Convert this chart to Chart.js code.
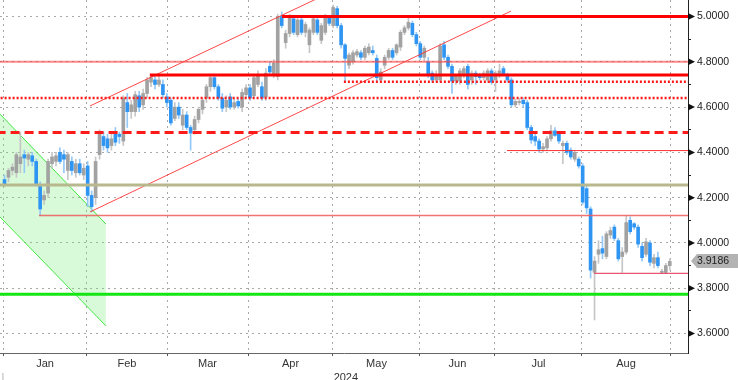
<!DOCTYPE html>
<html><head><meta charset="utf-8">
<script src="https://cdn.jsdelivr.net/npm/chart.js@4"></script>
<style>html,body{margin:0;padding:0;background:#fff;}#wrap{width:738px;height:380px;position:relative;}</style>
</head><body><div id="wrap"><canvas id="c" width="738" height="380"></canvas></div>
<script>
// ---------- data ----------
const opens = [4.28,4.29,4.32,4.31,4.35,4.39,4.37,4.385,4.36,4.25,
4.19,4.22,4.35,4.36,4.40,4.39,4.32,4.36,4.31,4.35,
4.30,4.34,4.21,4.20,4.39,4.47,4.46,4.43,4.49,4.48,
4.45,4.62,4.58,4.58,4.65,4.61,4.66,4.71,4.72,4.70,
4.70,4.645,4.63,4.55,4.60,4.52,4.565,4.51,4.50,4.545,
4.59,4.64,4.69,4.73,4.69,4.64,4.60,4.645,4.60,4.625,
4.60,4.655,4.685,4.65,4.70,4.69,4.645,4.78,4.74,4.735,
5.00,4.885,4.925,4.99,4.92,4.985,4.93,4.875,4.93,4.985,
4.895,4.93,4.995,4.96,5.035,4.96,4.875,4.785,4.80,4.83,
4.84,4.82,4.84,4.85,4.815,4.72,4.785,4.82,4.85,4.84,
4.865,4.93,4.95,4.97,4.92,4.88,4.82,4.80,4.75,4.72,
4.72,4.875,4.82,4.78,4.715,4.715,4.745,4.78,4.72,4.75,
4.74,4.73,4.72,4.76,4.72,4.74,4.77,4.745,4.72,4.61,
4.62,4.63,4.62,4.51,4.47,4.45,4.415,4.42,4.46,4.495,
4.48,4.43,4.44,4.41,4.37,4.37,4.34,4.24,4.15,3.87,
3.95,3.975,3.94,4.035,4.07,4.01,3.94,3.96,4.10,4.085,
4.07,3.985,3.95,4.00,3.91,3.935,3.87,3.87,3.90];
const highs = [4.30,4.33,4.35,4.40,4.49,4.41,4.40,4.40,4.37,4.27,
4.23,4.37,4.40,4.40,4.42,4.41,4.40,4.38,4.37,4.37,
4.35,4.36,4.23,4.38,4.50,4.49,4.48,4.48,4.51,4.49,
4.65,4.66,4.63,4.67,4.67,4.68,4.73,4.742,4.74,4.74,
4.72,4.66,4.64,4.62,4.62,4.59,4.58,4.52,4.56,4.60,
4.64,4.70,4.745,4.74,4.70,4.66,4.65,4.66,4.64,4.635,
4.68,4.70,4.70,4.74,4.76,4.71,4.77,4.80,4.81,5.01,
5.02,4.94,5.01,5.00,5.00,4.995,4.975,4.95,5.00,4.995,
4.97,5.01,5.005,5.05,5.045,4.97,4.88,4.84,4.85,4.855,
4.85,4.87,4.88,4.87,4.83,4.77,4.83,4.86,4.86,4.88,
4.94,4.96,5.00,4.98,4.93,4.89,4.87,4.82,4.76,4.76,
4.88,4.89,4.83,4.79,4.745,4.77,4.78,4.79,4.76,4.76,
4.75,4.76,4.77,4.77,4.76,4.79,4.78,4.75,4.73,4.635,
4.64,4.64,4.63,4.52,4.48,4.46,4.44,4.47,4.52,4.51,
4.49,4.45,4.45,4.42,4.41,4.38,4.35,4.25,4.16,3.94,
4.01,4.03,4.05,4.07,4.08,4.02,3.98,4.12,4.115,4.09,
4.08,4.00,4.02,4.01,3.95,3.96,3.885,3.91,3.93];
const lows = [4.25,4.27,4.30,4.29,4.31,4.31,4.34,4.34,4.25,4.12,
4.17,4.20,4.33,4.34,4.35,4.31,4.28,4.30,4.29,4.30,
4.28,4.16,4.137,4.17,4.37,4.41,4.40,4.41,4.43,4.44,
4.43,4.51,4.55,4.56,4.58,4.59,4.64,4.69,4.68,4.69,
4.64,4.60,4.52,4.54,4.55,4.50,4.50,4.41,4.48,4.53,
4.57,4.62,4.67,4.68,4.63,4.58,4.58,4.59,4.59,4.595,
4.58,4.64,4.63,4.64,4.69,4.63,4.63,4.74,4.73,4.72,
4.95,4.86,4.91,4.92,4.91,4.92,4.91,4.84,4.92,4.92,
4.88,4.92,4.96,4.95,4.95,4.86,4.71,4.77,4.79,4.82,
4.81,4.81,4.83,4.83,4.71,4.71,4.77,4.81,4.81,4.83,
4.85,4.92,4.94,4.91,4.87,4.81,4.80,4.73,4.71,4.71,
4.71,4.81,4.77,4.66,4.70,4.70,4.73,4.68,4.70,4.70,
4.72,4.72,4.71,4.70,4.67,4.73,4.74,4.71,4.60,4.60,
4.61,4.60,4.50,4.44,4.43,4.40,4.40,4.41,4.45,4.47,
4.44,4.35,4.39,4.37,4.36,4.33,4.17,4.13,3.845,3.66,
3.91,3.93,3.93,4.02,4.01,3.92,3.87,3.95,4.04,4.06,
3.98,3.92,3.94,3.90,3.89,3.89,3.865,3.865,3.88];
const closes = [4.255,4.32,4.335,4.39,4.38,4.375,4.39,4.36,4.26,4.15,
4.21,4.36,4.38,4.385,4.36,4.37,4.39,4.32,4.35,4.31,
4.33,4.21,4.16,4.36,4.48,4.43,4.42,4.46,4.445,4.47,
4.64,4.58,4.61,4.655,4.60,4.66,4.72,4.73,4.70,4.72,
4.655,4.62,4.53,4.60,4.565,4.565,4.51,4.485,4.545,4.59,
4.63,4.69,4.73,4.69,4.64,4.595,4.63,4.60,4.62,4.605,
4.665,4.685,4.64,4.73,4.74,4.64,4.75,4.755,4.795,5.00,
4.96,4.925,4.995,4.93,4.985,4.93,4.965,4.94,4.99,4.93,
4.96,5.00,4.97,5.04,4.96,4.875,4.815,4.83,4.84,4.845,
4.82,4.86,4.865,4.84,4.73,4.755,4.82,4.85,4.82,4.875,
4.93,4.95,4.975,4.92,4.88,4.82,4.86,4.74,4.72,4.74,
4.87,4.82,4.78,4.715,4.74,4.76,4.77,4.70,4.75,4.735,
4.73,4.75,4.76,4.71,4.75,4.76,4.745,4.72,4.61,4.625,
4.625,4.615,4.51,4.455,4.45,4.415,4.425,4.46,4.495,4.475,
4.45,4.44,4.40,4.38,4.40,4.34,4.18,4.155,3.88,3.92,
3.97,3.955,4.04,4.055,4.02,3.93,3.96,4.09,4.05,4.07,
3.995,3.935,4.005,3.915,3.935,3.90,3.875,3.90,3.9186];

// x tick labels: months, with the index (in trading-day units) where each month starts
const monthLabels = ['Jan','Feb','Mar','Apr','May','Jun','Jul','Aug'];
const monthStarts = [-0.38, 20.83, 41.04, 61.49, 82.95, 104.92, 123.86, 145.83, 168.06];
const yearLabel = '2024';
const yearLabelAt = 86.2;
const yearSeparator = '|';
// y tick values
const yTickValues = [3.6,3.7,3.8,3.9,4.0,4.1,4.2,4.3,4.4,4.5,4.6,4.7,4.8,4.9,5.0];

// horizontal levels (value, start index)
const levelValues = [5.0, 4.8, 4.742, 4.712, 4.64, 4.488, 4.408, 4.256, 4.121, 3.866, 3.774];
const levelStarts = [70.1, -2, 36.7, 85.7, -2, -2, 126.9, -2, 8.7, 148.9, -2];
// rising channel
const chanUpperX = [21.6, 80.0];   const chanUpperY = [4.605, 5.088];
const chanLowerX = [21.6, 127.9];  const chanLowerY = [4.137, 5.024];
// falling (green) channel
const greenX = [-1.14, 25.6];
const greenUpperY = [4.569, 4.084];
const greenLowerY = [4.115, 3.634];

// ---------- styles ----------
const levelStyles = [
  {c:'#ff0000', w:3, d:[]},
  {c:'rgba(255,60,60,0.6)', w:2, d:[]},
  {c:'#ff0000', w:3, d:[]},
  {c:'#ff1a1a', w:2.5, d:[2,2]},
  {c:'#ff1a1a', w:2.5, d:[2,2]},
  {c:'#ff1a1a', w:3, d:[9,5]},
  {c:'#ff3030', w:1, d:[]},
  {c:'#b8b88e', w:3, d:[]},
  {c:'rgba(240,90,90,0.85)', w:1.5, d:[]},
  {c:'#e0304a', w:1, d:[]},
  {c:'#14e614', w:3, d:[]}
];
const BLUE='#2f95f2', BLUE_W='#94c8f6', GRAY='#a2a2a2', GRAY_W='#c6c6c6';
const FONT = 'Liberation Sans, Arial, sans-serif';

const xTicks = [];
monthStarts.forEach((v,i) => xTicks.push({value:v, label: i===0 ? ['', yearSeparator] : '', grid:true, sep:i===0}));
monthLabels.forEach((m,i) => xTicks.push({value:(monthStarts[i]+monthStarts[i+1])/2, label:m, grid:false}));
xTicks.push({value:yearLabelAt, label:['', yearLabel], grid:false});
xTicks.sort((a,b)=>a.value-b.value);
const isMajor = v => Math.round(v*10) % 2 === 0;

const isUp = i => closes[i] >= opens[i];
const datasets = [];
levelValues.forEach((v,k) => {
  datasets.push({type:'line', data:[{x:levelStarts[k], y:v},{x:180, y:v}],
    borderColor:levelStyles[k].c, borderWidth:levelStyles[k].w, borderDash:levelStyles[k].d,
    pointRadius:0, fill:false, order:1});
});
datasets.push({type:'line', data:chanUpperX.map((x,i)=>({x, y:chanUpperY[i]})), borderColor:'rgba(255,40,40,0.85)', borderWidth:1, pointRadius:0, fill:false, order:1});
datasets.push({type:'line', data:chanLowerX.map((x,i)=>({x, y:chanLowerY[i]})), borderColor:'rgba(255,40,40,0.85)', borderWidth:1, pointRadius:0, fill:false, order:1});
datasets.push({type:'bar', data:lows.map((l,i)=>({x:i, y:[l, highs[i]]})),
  backgroundColor:lows.map((_,i)=>isUp(i)?GRAY_W:BLUE_W), barThickness:1, grouped:false, borderWidth:0, order:6});
datasets.push({type:'bar', data:opens.map((o,i)=>({x:i, y:[o, closes[i]]})),
  backgroundColor:opens.map((_,i)=>isUp(i)?GRAY:BLUE), barThickness:3, grouped:false, borderWidth:0, order:5});
datasets.push({type:'line', data:greenX.map((x,i)=>({x, y:greenUpperY[i]})), borderColor:'#3ee83e', borderWidth:1, pointRadius:0,
  fill:'+1', backgroundColor:'rgba(110,235,110,0.27)', order:9});
datasets.push({type:'line', data:greenX.map((x,i)=>({x, y:greenLowerY[i]})), borderColor:'#3ee83e', borderWidth:1, pointRadius:0, fill:false, order:9});

const decor = {
  id:'decor',
  afterDraw(chart){
    const {ctx, chartArea, scales:{y}} = chart;
    ctx.save();
    ctx.fillStyle = '#111';
    y.ticks.forEach(t => {
      if (!isMajor(t.value)) return;
      const py = y.getPixelForValue(t.value);
      ctx.beginPath(); ctx.moveTo(chartArea.right, py-3.5); ctx.lineTo(chartArea.right+7, py); ctx.lineTo(chartArea.right, py+3.5); ctx.closePath(); ctx.fill();
    });
    const last = closes[closes.length-1];
    const py = Math.round(y.getPixelForValue(last));
    const r = chartArea.right;
    ctx.fillStyle = '#b3b3b3';
    ctx.beginPath(); ctx.moveTo(r+3, py); ctx.lineTo(r+9, py-7); ctx.lineTo(738, py-7); ctx.lineTo(738, py+7); ctx.lineTo(r+9, py+7); ctx.closePath(); ctx.fill();
    ctx.fillStyle = '#222'; ctx.font = '10.5px ' + FONT; ctx.textBaseline = 'middle'; ctx.textAlign='left';
    ctx.fillText(last.toFixed(4), r+9, py+0.5);
    ctx.restore();
  }
};

new Chart(document.getElementById('c'), {
  type:'bar',
  data:{datasets},
  plugins:[decor],
  options:{
    responsive:false, animation:false, devicePixelRatio:1,
    layout:{padding:0},
    plugins:{legend:{display:false}, tooltip:{enabled:false}},
    scales:{
      x:{type:'linear', min:-1.14, max:172.6, offset:false,
        afterBuildTicks:s=>{ s.ticks = xTicks.map(t=>({value:t.value})); },
        afterFit:s=>{ s.height = 27; s.paddingLeft = 0; s.paddingRight = 0; },
        ticks:{autoSkip:false, maxRotation:0, padding:1, font:{family:FONT, size:11, lineHeight:1.25},
          color:c=> (xTicks[c.index] && xTicks[c.index].sep) ? '#b0b0b0' : '#333',
          callback:(v,i)=>xTicks[i] ? xTicks[i].label : ''},
        grid:{offset:false, color:c=> (xTicks[c.index] && xTicks[c.index].grid) ? '#a8a8a8' : 'rgba(0,0,0,0)',
          tickColor:c=> (xTicks[c.index] && xTicks[c.index].grid) ? '#555' : 'rgba(0,0,0,0)', tickLength:3, lineWidth:1},
        border:{display:true, color:'#666', width:1, dash:[2,4]}
      },
      y:{type:'linear', position:'right', min:3.514, max:5.073,
        afterBuildTicks:s=>{ s.ticks = yTickValues.map(v=>({value:v})); },
        afterFit:s=>{ s.width = 50; s.paddingTop = 0; s.paddingBottom = 0; },
        ticks:{autoSkip:false, padding:6, color:'#222', font:{family:FONT, size:10.5},
          callback:v=> isMajor(v) ? v.toFixed(4) : ''},
        grid:{offset:false, color:c=> (c.tick && isMajor(c.tick.value)) ? '#a8a8a8' : 'rgba(0,0,0,0)', tickColor:'#222', tickLength:3, lineWidth:1},
        border:{display:true, color:'#222', width:1, dash:[2,4]}
      }
    }
  }
});
</script></body></html>
